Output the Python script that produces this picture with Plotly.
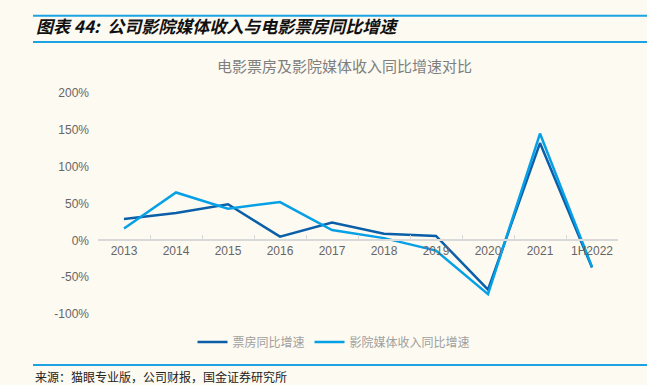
import plotly.graph_objects as go

years = ["2013", "2014", "2015", "2016", "2017", "2018", "2019", "2020", "2021", "1H2022"]
box_office = [29, 37, 49, 5, 24, 9, 6, -67, 132, -37]
media = [16, 65, 43, 52, 14, 3, -14, -73, 145, -36]
y_ticks = [-100, -50, 0, 50, 100, 150, 200]
y_tick_labels = ["-100%", "-50%", "0%", "50%", "100%", "150%", "200%"]

BG = "#FDFAF1"
DARK = "#0B5EA8"
LIGHT = "#06A0E6"
CJK = "Noto Sans CJK SC"
LAT = "Liberation Sans, Arial, sans-serif"

L, R, T, B = 98, 29, 93, 71
W, H = 647, 385
pw, ph = W - L - R, H - T - B

def px(x):
    return (x - L) / pw

def py(y):
    return (H - B - y) / ph

fig = go.Figure()
fig.add_trace(go.Scatter(x=years, y=box_office, mode="lines", name="票房同比增速",
                         line=dict(color=DARK, width=2.5)))
fig.add_trace(go.Scatter(x=years, y=media, mode="lines", name="影院媒体收入同比增速",
                         line=dict(color=LIGHT, width=2.5)))

fig.update_layout(
    width=W, height=H,
    margin=dict(l=L, r=R, t=T, b=B),
    paper_bgcolor=BG, plot_bgcolor=BG,
    showlegend=True,
    legend=dict(orientation="h", x=px(334), xanchor="center", y=py(342), yanchor="middle",
                font=dict(family=CJK, size=12, color="#A0A0A0"), bgcolor="rgba(0,0,0,0)",
                itemwidth=30, traceorder="normal"),
    xaxis=dict(type="category", range=[-0.5, 9.5], anchor="free", position=py(240),
               showline=True, linecolor="#D9D9D9", linewidth=1.5,
               ticks="inside", ticklen=4, tickcolor="#D9D9D9", tickwidth=1,
               tickson="boundaries", showgrid=False, zeroline=False,
               tickfont=dict(family=LAT, size=12, color="#666666")),
    yaxis=dict(range=[-100, 200], tickmode="array", tickvals=y_ticks, ticktext=y_tick_labels,
               showgrid=False, zeroline=False, showline=False, ticks="",
               ticklabelstandoff=8,
               tickfont=dict(family=LAT, size=12, color="#666666")),
)

fig.add_annotation(text="电影票房及影院媒体收入同比增速对比", xref="paper", yref="paper",
                   x=px(344.5), y=py(65), xanchor="center", yanchor="middle", showarrow=False,
                   font=dict(family=CJK, size=15, color="#7F7F7F"))
fig.add_annotation(text="<b><i>图表 44:  公司影院媒体收入与电影票房同比增速</i></b>", xref="paper", yref="paper",
                   x=px(34), y=py(26), xanchor="left", yanchor="middle", showarrow=False,
                   font=dict(family=CJK, size=17, color="#111111"))
fig.add_annotation(text="来源：猫眼专业版，公司财报，国金证券研究所", xref="paper", yref="paper",
                   x=px(33), y=py(376), xanchor="left", yanchor="middle", showarrow=False,
                   font=dict(family=CJK, size=12, color="#222222"))

for yy in (15.7, 42, 365):
    fig.add_shape(type="line", xref="paper", yref="paper", x0=px(33), x1=px(647),
                  y0=py(yy), y1=py(yy), line=dict(color="#1BA3E3", width=2))

fig.write_html("out.html", config={"displayModeBar": False},
               post_script="document.body.style.margin='0';document.body.style.background='%s';" % BG)
